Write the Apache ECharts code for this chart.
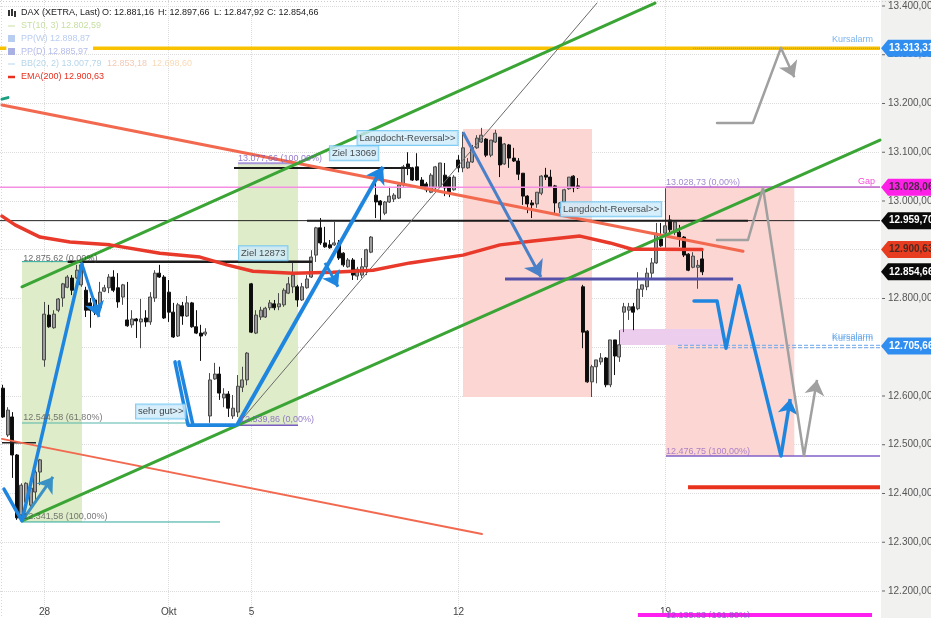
<!DOCTYPE html>
<html><head><meta charset="utf-8">
<style>html,body{margin:0;padding:0;background:#fff;overflow:hidden}#c{width:931px;height:618px}</style>
<script src="https://cdn.jsdelivr.net/npm/echarts@6/dist/echarts.min.js"></script>
</head><body><div id="c"></div>
<script>
// [open, close, low, high], one per hourly bar
const candles = [
[12616,12557,12555,12623],[12520,12571,12516,12577],[12557,12479,12432,12567],[12479,12350,12346,12481],
[12356,12417,12344,12421],[12382,12421,12376,12423],[12376,12411,12370,12432],[12403,12444,12381,12448],
[12444,12469,12417,12471],[12674,12768,12660,12793],[12766,12742,12740,12787],[12740,12768,12738,12776],
[12776,12799,12772,12801],[12801,12830,12783,12832],[12823,12844,12821,12848],[12842,12817,12807,12848],
[12842,12858,12840,12869],[12828,12869,12824,12875],[12817,12776,12762,12824],[12791,12776,12740,12801],
[12797,12772,12766,12801],[12781,12813,12772,12834],[12815,12822,12813,12828],[12822,12844,12811,12850],
[12844,12817,12813,12858],[12822,12793,12781,12852],[12803,12828,12787,12830],[12756,12744,12742,12834],
[12746,12758,12740,12776],[12758,12754,12719,12760],[12752,12758,12698,12799],[12760,12752,12742,12776],
[12752,12803,12746,12813],[12801,12852,12793,12858],[12852,12844,12842,12869],[12844,12760,12758,12848],
[12813,12772,12752,12838],[12772,12721,12719,12791],[12723,12787,12721,12791],[12785,12764,12746,12793],
[12764,12791,12762,12805],[12791,12742,12740,12793],[12742,12729,12727,12776],[12729,12723,12672,12746],
[12727,12731,12723,12739],[12559,12633,12545,12647],[12635,12645,12633,12668],[12645,12606,12592,12660],
[12596,12604,12577,12616],[12604,12575,12557,12610],[12559,12575,12553,12602],[12567,12620,12557,12643],
[12618,12633,12608,12660],[12633,12688,12622,12690],[12830,12731,12729,12832],[12729,12766,12727,12776],
[12762,12776,12756,12783],[12762,12780,12760,12783],[12781,12791,12776,12797],[12789,12781,12776,12797],
[12783,12789,12776,12811],[12787,12817,12783,12821],[12811,12830,12809,12844],[12824,12848,12811,12873],
[12824,12797,12783,12828],[12797,12824,12795,12832],[12822,12840,12820,12848],[12844,12885,12842,12899],
[12889,12945,12875,12947],[12945,12914,12910,12965],[12914,12906,12904,12947],[12910,12904,12902,12920],
[12910,12914,12908,12957],[12914,12883,12879,12920],[12893,12869,12865,12895],[12865,12879,12863,12883],
[12879,12848,12838,12883],[12846,12860,12838,12865],[12848,12865,12842,12883],[12865,12900,12848,12902],
[12895,12926,12893,12928],[13012,12998,12965,13047],[13000,12992,12961,13002],[12975,12998,12971,13000],
[12998,13010,12996,13029],[13004,13012,12998,13016],[13006,13033,13004,13039],[13033,13070,13029,13074],
[13076,13068,13053,13100],[13068,13043,13041,13070],[13070,13043,13041,13098],[13043,13029,13027,13049],
[13035,13023,13018,13039],[13018,13053,13016,13057],[13027,13070,13018,13072],[13029,13078,13027,13078],
[13053,13027,13010,13078],[13049,13018,13008,13049],[13023,13049,13021,13053],[13084,13068,13059,13094],
[13068,13109,13059,13142],[13068,13080,13066,13088],[13080,13109,13078,13115],[13109,13129,13107,13135],
[13121,13135,13119,13150],[13127,13094,13090,13129],[13094,13125,13090,13125],[13121,13139,13119,13146],
[13131,13074,13049,13131],[13076,13117,13074,13119],[13115,13088,13068,13117],[13088,13082,13080,13109],
[13082,13055,13043,13088],[13057,13010,12992,13057],[13010,12994,12975,13012],[12996,12992,12965,13002],
[12994,13018,12986,13018],[13016,13051,13012,13053],[13053,13049,13043,13068],[13049,13029,13027,13064],
[13031,12996,12975,13033],[12986,12996,12975,12998],[12998,13023,12996,13025],[13025,13049,13023,13049],
[13051,13027,13018,13053],[13031,13027,13025,13047],[12824,12731,12698,12828],[12733,12629,12627,12735],
[12629,12660,12598,12664],[12660,12674,12626,12674],[12670,12678,12664,12688],[12678,12623,12618,12680],
[12623,12715,12618,12715],[12715,12682,12643,12715],[12680,12705,12670,12735],[12772,12783,12731,12791],
[12776,12783,12756,12791],[12783,12772,12735,12791],[12779,12819,12776,12854],[12819,12828,12803,12828],
[12824,12852,12817,12863],[12852,12873,12838,12883],[12873,12934,12871,12955],[12922,12908,12906,12955],
[12934,12949,12904,13026],[12961,12941,12930,12971],[12936,12957,12930,12957],[12936,12926,12906,12951],
[12926,12889,12885,12928],[12891,12858,12856,12893],[12864,12887,12862,12895],[12864,12868,12820,12879],
[12881.16,12854.66,12847.92,12897.66]];

const priceTicks = [13400,13300,13200,13100,13000,12900,12800,12700,12600,12500,12400,12300,12200];
const dateTickBars = [9,36,54,99,144];
const dateTickNames = ['28','Okt','5','12','19'];
const xMin = -0.67, xMax = 190.63, yMin = 12144.6, yMax = 13412.3;

const ema200 = [[-0.24,12969],[2.59,12951],[8.02,12926],[14.54,12916],[23.24,12910],[34.1,12893],[42.8,12885],
[48.67,12869],[54.33,12856],[63.02,12852],[71.72,12854],[80.41,12858],[88.46,12873],[99.98,12889],[108.02,12910],
[115.2,12918],[125.41,12928],[131.93,12914],[136.72,12901],[142.37,12901],[151.93,12900.63]];

const channelUp1 = [[4.11,12824],[141.72,13406]];
const channelUp2 = [[4.11,12344],[190.63,13125]];
const downLine1 = [[-0.24,13197],[160.85,12897]];
const downLine2 = [[-0.24,12512],[104.11,12317]];
const thinTrend = [[50.85,12540],[129.1,13406]];

// [fromBar, toBar, price, colour, width, dash]
const levels = [
[19.54,190.63,13313.31,'#f9c200',3.5,'solid'],[-0.67,0.7,13313.31,'#f9c200',3.5,'solid'],
[-0.67,190.63,13028.06,'#f58fe4',1.5,'solid'],[-0.67,190.63,12959.7,'#222222',1,'solid'],
[66.07,161.93,12959.7,'#1c1c1c',2,'solid'],[14.1,67.15,12875.62,'#1c1c1c',2.5,'solid'],
[50.2,88.7,13067.7,'#1c1c1c',2,'solid'],[-0.24,7.15,12504,'#222222',1.5,'solid'],
[4.11,14.1,12875.62,'#2aa89a',1,'solid'],[4.11,40.63,12544.58,'#55b5aa',1,'solid'],[4.11,47.15,12341.58,'#2aa89a',1,'solid'],
[51.07,64.11,13077.66,'#a796d8',2,'solid'],[51.07,64.11,12539.86,'#7a5cc0',1.5,'solid'],
[144.1,190.63,13028.73,'#a060c0',1,'solid'],[144.1,190.63,12476.75,'#8060c8',1.5,'solid'],
[146.72,190.63,12704,'#6aa6ee',1,'dashed'],[146.72,190.63,12699,'#6aa6ee',1,'dashed'],
[150,190.63,13313.31,'#5aa0e8',1,'dotted'],
[109.11,158.7,12840,'#5550a8',3,'solid'],[148.9,190.63,12413,'#e8321e',4,'solid'],[138,188.9,12151,'#ff20f0',4,'solid']
];

const bluePath1 = [[0.2,12409],[4.11,12344],[17.15,12871]];
const bluePath2 = [[37.37,12670],[40.2,12540],[50.41,12540]];
const bluePath3 = [[38.24,12670],[41.28,12540],[50.41,12540]];
const bluePath4 = [[150.2,12795],[155.2,12795],[157.15,12698],[160,12826],[169.1,12477]];
const grayPath1 = [[155.2,13160],[163,13160],[169.1,13314]];
const grayPath2 = [[155.2,12920],[161.93,12920],[165.2,13027],[174.1,12477]];
const tealDash = [[-0.24,13209],[1.06,13212]];

// [x1,y1,x2,y2,colour,width,headSize]
const arrows = [
[17.15,12871,20.85,12762,'#1f86e0',3,15],[4.11,12344,10.85,12434,'#3a92c4',3,15],
[50.85,12540,82.59,13070,'#1f86e0',4,16],[69.98,12873,72.8,12824,'#1f86e0',3,15],
[99.98,13141,116.93,12844,'#4a80c8',3,16],[169.1,12477,171.1,12594,'#1f86e0',3.5,15],
[169.1,13314,172,13254,'#a0a0a0',2.5,15],[174.1,12477,176.93,12633,'#a0a0a0',2.5,15]
];

// [fromBar,toBar,priceA,priceB,colour]
const zones = [
[4.11,17.15,12875.62,12341.58,'#dfecc9'],[51.07,64.11,13077.66,12539.86,'#dfecc9'],
[99.98,128.02,13147.7,12598,'#fbd6d2'],[144.1,172,13028.73,12476.75,'#fbd6d2'],
[134.11,156.3,12737.4,12704.6,'#eccdee']
];

// [bar,price,text,colour,boxed]
const notes = [
[51.3,12893,'Ziel 12873','#222222',1],[71.05,13098,'Ziel 13069','#222222',1],
[77.05,13129,'Langdocht-Reversal>>','#222222',1],[121.3,12983,'Langdocht-Reversal>>','#222222',1],
[28.9,12568,'sehr gut>>','#111111',1],
[180.2,13332,'Kursalarm','#5aa0e8',0],[180.2,12722,'Kursalarm','#5aa0e8',0],[180.2,12718,'Kursalarm','#5aa0e8',0],
[185.85,13040,'Gap','#f020d0',0],
[4.4,12883,'12.875,62 (0,00%)','#444444',0],[4.4,12556,'12.544,58 (61,80%)','#555555',0],[4.4,12352,'12.341,58 (100,00%)','#555555',0],
[51.07,13088,'13.077,66 (100,00%)','#7a5cc0',0],[51.5,12551,'12.539,86 (0,00%)','#7a5cc0',0],
[144.1,13037,'13.028,73 (0,00%)','#8a6cc4',0],[144.1,12487,'12.476,75 (100,00%)','#9a6cc4',0],
[144.1,12150,'12.135,83 (161,80%)','#7a4cc0',0]
];

// [price,text,fill,textColour]
const tags = [
[13313.31,'13.313,31','#2f8ef0','#ffffff'],[13028.06,'13.028,06','#ff20e8','#4a2a44'],
[12959.7,'12.959,70','#0a0a0a','#ffffff'],[12900.63,'12.900,63','#e83c20','#4a2a20'],
[12854.66,'12.854,66','#0a0a0a','#ffffff'],[12702.5,'12.705,66','#2f8ef0','#ffffff']
];

// text rows of the info box: each row is [x, y, text, colour]
const infoRows = [
[21,13,'DAX (XETRA, Last)','#222222'],[102,13,'O: 12.881,16','#222222'],[158,13,'H: 12.897,66','#222222'],
[214,13,'L: 12.847,92','#222222'],[267,13,'C: 12.854,66','#222222'],
[21,26,'ST(10, 3) 12.802,59','#c6dfa0'],[21,38.5,'PP(W) 12.898,87','#b9cdf0'],[21,51.5,'PP(D) 12.885,97','#b4bcea'],
[21,64,'BB(20, 2) 13.007,79','#b6d6ea'],[107,64,'12.853,18','#f3c9b4'],[152,64,'12.698,60','#f8dab4'],
[21,77,'EMA(200) 12.900,63','#e83020']
];
const infoSwatches = [[8,26,'#c6dfa0',1],[8,38.5,'#b9cdf0',7],[8,51.5,'#a9b0e4',7],[8,64,'#b6d6ea',1],[8,77,'#e83020',2.5]];

const tradeSeries = (data,color,width,z)=>({type:'line',data,symbol:'none',silent:true,z:z||4,
  lineStyle:{color,width,cap:'round',join:'round'},animation:false});

const series = [];
series.push({type:'line',data:[],z:1,silent:true,markArea:{silent:true,z:1,data:zones.map(r=>[
  {xAxis:r[0],yAxis:r[2],itemStyle:{color:r[4],opacity:1}},{xAxis:r[1],yAxis:r[3]}])}});
series.push({type:'candlestick',z:3,barWidth:3.5,silent:true,
  data:candles.map((c,i)=>[i,c[0],c[1],c[2],c[3]]),encode:{x:0,y:[1,2,3,4]},
  itemStyle:{color:'#9c9c9c',color0:'#0c0c0c',borderColor:'#4a4a4a',borderColor0:'#111111',borderWidth:1}});
levels.forEach(l=>series.push({type:'line',data:[[l[0],l[2]],[l[1],l[2]]],symbol:'none',silent:true,z:4,
  clip:false,lineStyle:{color:l[3],width:l[4],type:l[5]}}));
series.push(tradeSeries(thinTrend,'#6a6a6a',1));
series.push(tradeSeries(downLine1,'#f2694f',3));
series.push(tradeSeries(downLine2,'#f2694f',2));
series.push(tradeSeries(channelUp1,'#3aa535',3));
series.push(tradeSeries(channelUp2,'#3aa535',3));
series.push(tradeSeries(ema200,'#e8392a',3.5));
series.push(tradeSeries(tealDash,'#1aa080',3));
[bluePath1,bluePath2,bluePath3,bluePath4].forEach(p=>series.push(tradeSeries(p,'#1f86e0',3.5,5)));
[grayPath1,grayPath2].forEach(p=>series.push(tradeSeries(p,'#a0a0a0',2.5,5)));
arrows.forEach(a=>series.push({type:'lines',coordinateSystem:'cartesian2d',silent:true,z:5,polyline:false,
  symbol:['none','arrow'],symbolSize:a[6],
  lineStyle:{color:a[4],width:a[5],opacity:1,curveness:0},data:[{coords:[[a[0],a[1]],[a[2],a[3]]]}]}));
series.push({type:'scatter',z:7,silent:true,symbolSize:0,clip:false,
  data:notes.map(n=>({value:[n[0],n[1]],label:{show:true,position:'right',distance:0,formatter:n[2],color:n[3],
    fontFamily:'Liberation Sans',fontSize:n[4]?9.5:9,
    backgroundColor:n[4]?'#cdeafa':'transparent',borderColor:n[4]?'#62c2f2':'transparent',borderWidth:n[4]?1:0,
    padding:n[4]?[2,2,2,2]:0}}))});
series.push({type:'custom',z:2,silent:true,clip:false,
  data:priceTicks.map(v=>[xMax,v]),encode:{x:0,y:1},
  renderItem:(p,api)=>{const pt=api.coord([xMax,api.value(1)]);
    return {type:'line',shape:{x1:pt[0]+2,y1:pt[1],x2:pt[0]+5,y2:pt[1]},style:{stroke:'#666',lineWidth:1}};}});
series.push({type:'custom',z:8,silent:true,clip:false,
  data:tags.map(t=>[xMax,t[0]]),encode:{x:0,y:1},
  renderItem:(p,api)=>{const pt=api.coord([xMax,api.value(1)]),x=pt[0]+1,y=pt[1],t=tags[p.dataIndex];
    return {type:'group',children:[
      {type:'polygon',shape:{points:[[x,y],[x+7,y-8.5],[x+60,y-8.5],[x+60,y+8.5],[x+7,y+8.5]]},style:{fill:t[2]}},
      {type:'text',style:{text:t[1],x:x+8,y:y,fill:t[3],font:'bold 10px "Liberation Sans"',textVerticalAlign:'middle',textBaseline:'middle'}}]};}});

const graphics = [
 {type:'rect',z:0,shape:{x:881,y:0,width:50,height:618},style:{fill:'#f1f2f0'},silent:true},
 {type:'line',z:0,shape:{x1:0,y1:1.5,x2:931,y2:1.5},style:{stroke:'#cccccc',lineDash:[1,2]},silent:true},
 {type:'line',z:0,shape:{x1:1.5,y1:0,x2:1.5,y2:618},style:{stroke:'#d8d8d8',lineDash:[1,2]},silent:true}
];
infoRows.forEach(r=>graphics.push({type:'text',z:100,silent:true,style:{text:r[2],x:r[0],y:r[1],fill:r[3],
  font:'9px "Liberation Sans"',textVerticalAlign:'middle',textBaseline:'middle'}}));
infoSwatches.forEach(s=>graphics.push({type:'rect',z:100,silent:true,shape:{x:s[0],y:s[1]-s[3]/2,width:7,height:s[3]},style:{fill:s[2]}}));
[[8,10,6],[11,9,7],[14,11,6]].forEach(b=>graphics.push({type:'rect',z:100,silent:true,shape:{x:b[0],y:b[1],width:2,height:b[2]},style:{fill:'#333'}}));

const chart = echarts.init(document.getElementById('c'),null,{renderer:'canvas'});
chart.setOption({
  animation:false,backgroundColor:'#ffffff',
  grid:{left:0,top:0,width:880,height:618,containLabel:false,outerBoundsMode:'none'},
  xAxis:{type:'value',min:xMin,max:xMax,
    axisLine:{show:false},axisTick:{show:false,customValues:dateTickBars},
    axisLabel:{inside:true,margin:1,color:'#444',fontFamily:'Liberation Sans',fontSize:10,customValues:dateTickBars,
      formatter:v=>dateTickNames[dateTickBars.indexOf(v)]||''},
    splitLine:{show:true,lineStyle:{color:'#dcdcdc',type:'dotted'}}},
  yAxis:{type:'value',position:'right',min:yMin,max:yMax,
    axisLine:{show:false},
    axisTick:{show:false,customValues:priceTicks},
    axisLabel:{show:true,margin:8,color:'#555',fontFamily:'Liberation Sans',fontSize:10,customValues:priceTicks,
      formatter:v=>{const s=Math.round(v).toString();return s.slice(0,2)+'.'+s.slice(2)+',00';}},
    splitLine:{show:true,lineStyle:{color:'#dcdcdc',type:'dotted'}}},
  graphic:graphics,
  series
});
</script></body></html>
